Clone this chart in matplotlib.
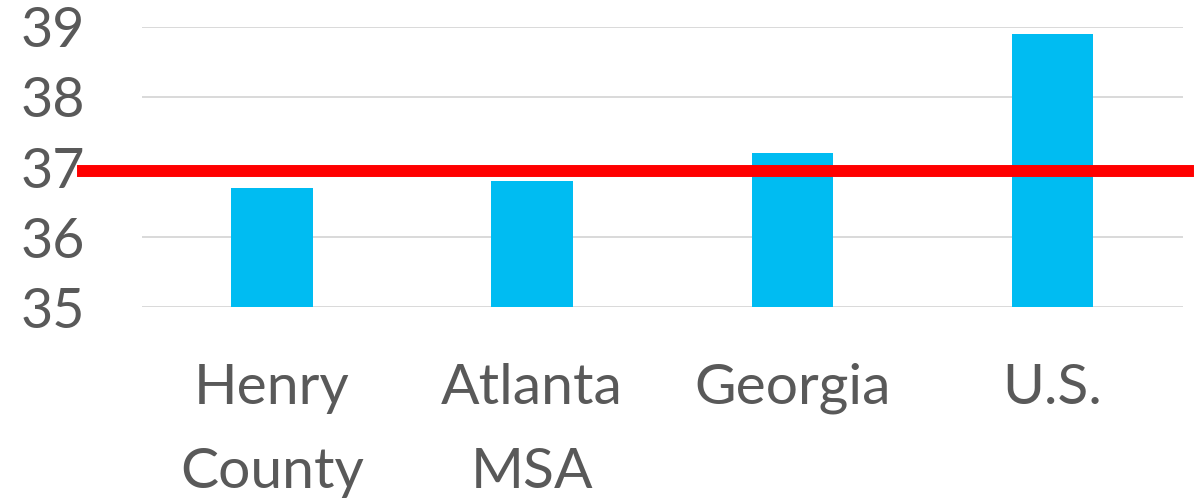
import matplotlib
matplotlib.use("Agg")
import matplotlib.pyplot as plt

categories = ["Henry\nCounty", "Atlanta\nMSA", "Georgia", "U.S."]
values = [36.7, 36.8, 37.2, 38.9]
reference_value = 36.95
y_ticks = [35, 36, 37, 38, 39]

plt.rcParams['font.family'] = ['Lato', 'DejaVu Sans']

fig = plt.figure(figsize=(11.98, 5.01), dpi=100)
ax = fig.add_axes([0.1183, 0.3866, 0.8689, 0.5601])

x = list(range(len(categories)))
ax.bar(x, [v - 35 for v in values], bottom=35, width=0.313, color='#00BCF2', zorder=2)
ax.set_xlim(-0.5, len(categories) - 0.5)
ax.set_ylim(35, 39)
ax.set_yticks(y_ticks)
ax.set_yticklabels([str(t) for t in y_ticks])
ax.set_xticks(x)
ax.set_xticklabels(categories, linespacing=1.8)
ax.yaxis.grid(True, color='#D9D9D9', linewidth=1.4, zorder=0)
ax.set_axisbelow(True)
for s in ax.spines.values():
    s.set_visible(False)
ax.tick_params(axis='both', length=0, labelcolor='#595959')
ax.tick_params(axis='y', pad=41, labelsize=40)
ax.tick_params(axis='x', pad=40, labelsize=41)

ax.axhline(reference_value, xmin=-0.0567, xmax=1.0048, color='#FF0000',
           linewidth=8.6, clip_on=False, zorder=3)

fig.savefig("out.png", dpi=100)
